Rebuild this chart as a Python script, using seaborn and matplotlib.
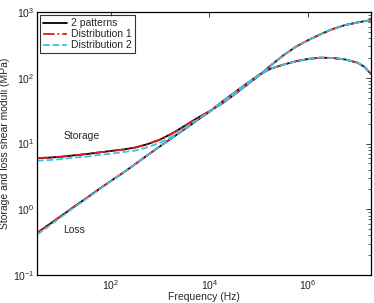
import numpy as np
import pandas as pd
import matplotlib
matplotlib.use("Agg")
import matplotlib.pyplot as plt
import seaborn as sns

# frequency grid (log10 Hz)
freq_exp = [0.5, 0.75, 1.0, 1.25, 1.5, 1.75, 2.0, 2.25, 2.5, 2.75, 3.0, 3.25,
            3.5, 3.75, 4.0, 4.25, 4.5, 4.75, 5.0, 5.25, 5.5, 5.75, 6.0, 6.25,
            6.5, 6.75, 7.0, 7.15, 7.28]
freq = [10 ** e for e in freq_exp]

# 2 patterns
storage_2p = [6.0, 6.1, 6.3, 6.6, 6.9, 7.3, 7.7, 8.1, 8.7, 9.8, 11.5, 14.3,
              18.6, 24.3, 30.9, 40.3, 55, 77, 107, 155, 219, 295, 372, 457,
              550, 631, 692, 724, 750]
loss_2p = [0.436, 0.59, 0.80, 1.09, 1.47, 2.0, 2.7, 3.6, 4.9, 6.7, 9.1, 12.3,
           16.6, 22.5, 30.4, 42.7, 59, 81, 110, 138, 158, 178, 193, 202,
           200, 190, 170, 146, 114]

# Distribution 1
storage_d1 = [6.0, 6.1, 6.3, 6.6, 6.9, 7.3, 7.7, 8.1, 8.7, 9.8, 11.5, 14.2,
              18.5, 24.2, 30.9, 40.3, 55, 77, 107, 155, 219, 295, 372, 457,
              550, 631, 692, 724, 750]
loss_d1 = [0.436, 0.59, 0.80, 1.09, 1.47, 2.0, 2.7, 3.6, 4.9, 6.7, 9.1, 12.3,
           16.6, 22.5, 30.4, 42.7, 59, 81, 110, 138, 158, 178, 193, 202,
           200, 190, 170, 146, 114]

# Distribution 2
storage_d2 = [5.5, 5.6, 5.8, 6.1, 6.3, 6.7, 7.0, 7.4, 7.8, 8.8, 10.3, 12.9,
              17.2, 23.0, 30.3, 40.3, 55, 77, 107, 155, 219, 295, 372, 457,
              550, 631, 692, 724, 750]
loss_d2 = [0.41, 0.56, 0.77, 1.06, 1.44, 1.97, 2.68, 3.6, 4.9, 6.7, 9.1, 12.3,
           16.6, 22.5, 30.4, 42.7, 59, 81, 110, 138, 158, 178, 193, 202,
           200, 190, 170, 146, 114]

series = [
    ("2 patterns", storage_2p, loss_2p, "black", "-"),
    ("Distribution 1", storage_d1, loss_d1, "#e41a1c", "-."),
    ("Distribution 2", storage_d2, loss_d2, "#3fc2e6", "--"),
]

sns.set_style("white")
plt.rcParams["font.family"] = ["Liberation Sans", "DejaVu Sans"]
plt.rcParams["mathtext.default"] = "regular"
plt.rcParams["xtick.direction"] = "in"
plt.rcParams["ytick.direction"] = "in"

fig = plt.figure(figsize=(3.74, 3.03), dpi=100)
ax = fig.add_axes([0.099, 0.0924, 0.893, 0.868])

for name, st, lo, col, ls in series:
    df = pd.DataFrame({"f": freq, "storage": st, "loss": lo})
    sns.lineplot(data=df, x="f", y="storage", ax=ax, color=col, linestyle=ls,
                 linewidth=1.3, label=name, sort=False)
    sns.lineplot(data=df, x="f", y="loss", ax=ax, color=col, linestyle=ls,
                 linewidth=1.3, label="_nolegend_", sort=False)

ax.set_xscale("log")
ax.set_yscale("log")
ax.set_xlim(10 ** 0.5, 10 ** 7.28)
ax.set_ylim(0.1, 1000)
ax.set_xticks([1e2, 1e4, 1e6])
ax.xaxis.set_minor_locator(matplotlib.ticker.NullLocator())
ax.tick_params(which="both", top=True, right=True, labelsize=7.5,
               colors="#222222", pad=2)
ax.tick_params(which="major", length=3.5, width=0.6)
ax.tick_params(which="minor", length=2, width=0.5)
for sp in ax.spines.values():
    sp.set_linewidth(0.9)
    sp.set_color("black")

ax.set_xlabel("Frequency (Hz)", fontsize=7.5, labelpad=0)
ax.set_ylabel("Storage and loss shear moduli (MPa)", fontsize=7.5, labelpad=2)

ax.text(10.7, 12.9, "Storage", fontsize=7.5, va="center", ha="left")
ax.text(10.7, 0.48, "Loss", fontsize=7.5, va="center", ha="left")

leg = ax.legend(loc="upper left", fontsize=7.5, frameon=True, fancybox=False,
                edgecolor="black", borderpad=0.3, labelspacing=0.1,
                handlelength=2.3, handletextpad=0.4, borderaxespad=0.3)
leg.get_frame().set_linewidth(0.8)

fig.savefig("out.png", dpi=100)
